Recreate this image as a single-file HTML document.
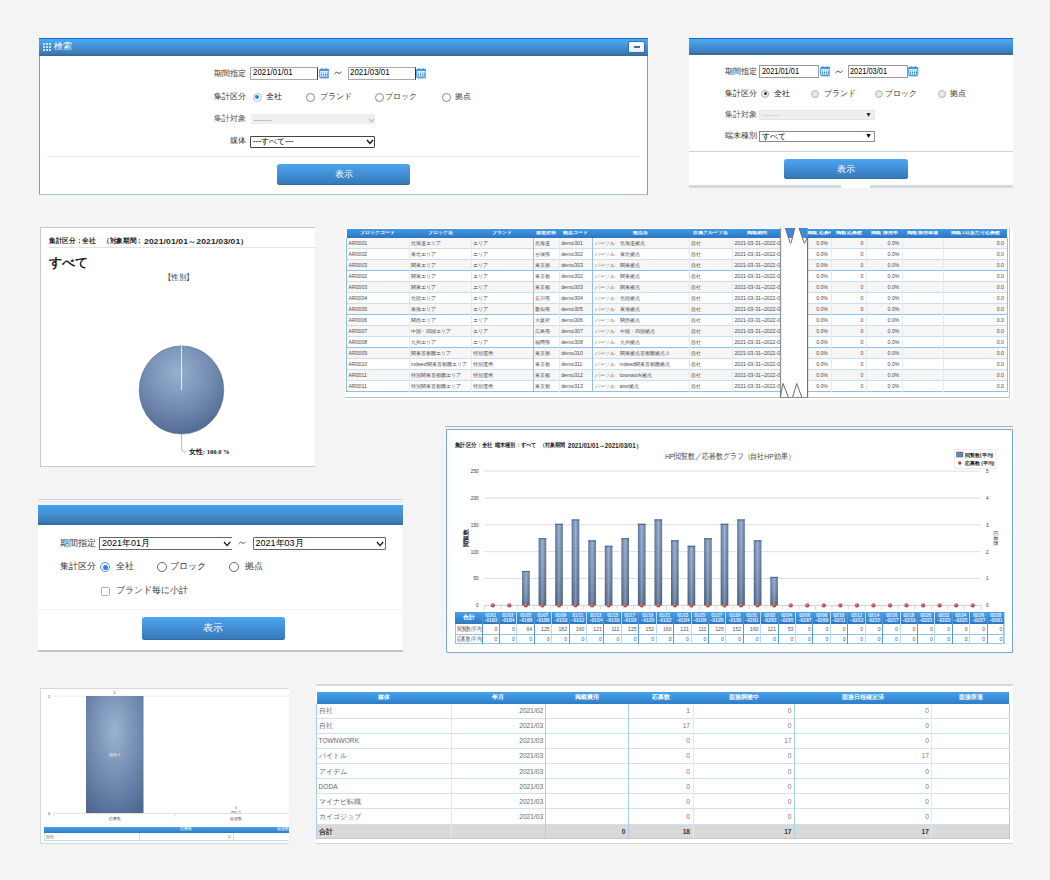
<!DOCTYPE html><html><head><meta charset="utf-8"><style>
*{box-sizing:border-box;margin:0;padding:0}
html,body{width:1050px;height:880px;overflow:hidden;background:#f4f4f4;font-family:"Liberation Sans",sans-serif;color:#222}
.abs{position:absolute}
.t{position:absolute;white-space:nowrap;line-height:1}
.hdr{position:absolute;background:linear-gradient(#4eaaf7 0%,#4699e0 30%,#4086c6 65%,#3c7cb4 85%,#376f9c 90%,#366d98 100%);border-top:1px solid #0d68c6}
.btn{position:absolute;background:linear-gradient(#4ca6f0,#418dd4 50%,#3677b6);border-radius:3px;color:#fff;text-align:center;box-shadow:inset 0 -1px 0 #2f6aa5}
.inp{position:absolute;background:#fff;border:1px solid #9a9a9a;border-top-color:#777;border-left-color:#777}
.radio{position:absolute;border:1px solid #8a8a8a;border-radius:50%;background:#fff}
.radio.on{border-color:#4a90e2}
.radio.on:after{content:"";position:absolute;left:1.5px;top:1.5px;right:1.5px;bottom:1.5px;border-radius:50%;background:#2f7fe0}
.cal{position:absolute;width:10px;height:10px;background:#4a90d0;border:1px solid #3a78b8}
.cal:after{content:"";position:absolute;left:1px;top:3px;right:1px;bottom:1px;background:repeating-linear-gradient(90deg,#dfeefa 0 2px,#4a90d0 2px 3px)}
</style></head><body>
<div class="abs" style="left:39px;top:38px;width:609px;height:157px;background:#fff;border:1px solid #6d9fd0;border-top:none;border-bottom-color:#a3bfd8"></div><div class="hdr" style="left:39px;top:38px;width:609px;height:18px"></div><div class="abs" style="left:43px;top:43px;width:2px;height:2px;background:#fff;border-radius:1px"></div><div class="abs" style="left:43px;top:46px;width:2px;height:2px;background:#fff;border-radius:1px"></div><div class="abs" style="left:43px;top:49px;width:2px;height:2px;background:#fff;border-radius:1px"></div><div class="abs" style="left:46px;top:43px;width:2px;height:2px;background:#fff;border-radius:1px"></div><div class="abs" style="left:46px;top:46px;width:2px;height:2px;background:#fff;border-radius:1px"></div><div class="abs" style="left:46px;top:49px;width:2px;height:2px;background:#fff;border-radius:1px"></div><div class="abs" style="left:49px;top:43px;width:2px;height:2px;background:#fff;border-radius:1px"></div><div class="abs" style="left:49px;top:46px;width:2px;height:2px;background:#fff;border-radius:1px"></div><div class="abs" style="left:49px;top:49px;width:2px;height:2px;background:#fff;border-radius:1px"></div><div class="t" style="left:54px;top:42px;font-size:9px;color:#fff;font-weight:normal;">検索</div><div class="abs" style="left:628px;top:41px;width:17px;height:12px;background:linear-gradient(#fff,#e8eef3);border-radius:2px;border:1px solid #2a6eb0"></div><div class="abs" style="left:633.5px;top:46.3px;width:6.5px;height:1.6px;background:#3d6f92"></div><div class="t" style="left:214px;top:69.6px;font-size:8.2px;color:#333;font-weight:normal;">期間指定</div><div class="abs" style="left:250px;top:66.5px;width:68px;height:13.5px;background:#fff;border:1px solid #aaa;border-right:1px solid #333"></div><div class="t" style="left:252.5px;top:68.2px;font-size:9.2px;color:#000;font-weight:normal;transform:scaleX(0.86);transform-origin:0 0">2021/01/01</div><svg class="abs" style="left:318.5px;top:68px" width="10.5" height="10.5" viewBox="0 0 10 10"><rect x="0.6" y="1.2" width="8.8" height="8.2" rx="1" fill="#e6f3fd" stroke="#3a93e2" stroke-width="0.9"/><rect x="0.6" y="1.2" width="8.8" height="1.6" fill="#3a93e2"/><rect x="2.3" y="0.2" width="1" height="1.6" fill="#3a93e2"/><rect x="6.7" y="0.2" width="1" height="1.6" fill="#3a93e2"/><g fill="#8cc6f2"><rect x="1.8" y="3.6" width="1.1" height="4.2"/><rect x="3.8" y="3.6" width="1.1" height="4.2"/><rect x="5.8" y="3.6" width="1.1" height="4.2"/><rect x="7.6" y="3.6" width="1" height="4.2"/></g><g fill="#2a78c8"><rect x="1.8" y="6" width="1.1" height="1"/><rect x="3.8" y="6" width="1.1" height="1"/><rect x="5.8" y="6" width="1.1" height="1"/><rect x="7.6" y="6" width="1" height="1"/></g><rect x="1.2" y="8.2" width="7.6" height="1" fill="#3f86c8"/></svg><svg class="abs" style="left:334px;top:70.5px" width="8" height="4" viewBox="0 0 8 4"><path d="M0.5 3 Q2.5 0 4 1.8 Q5.5 3.5 7.5 1" fill="none" stroke="#333" stroke-width="0.9"/></svg><div class="abs" style="left:347.5px;top:66.5px;width:68px;height:13.5px;background:#fff;border:1px solid #aaa;border-right:1px solid #333"></div><div class="t" style="left:350px;top:68.2px;font-size:9.2px;color:#000;font-weight:normal;transform:scaleX(0.86);transform-origin:0 0">2021/03/01</div><svg class="abs" style="left:415.5px;top:68px" width="10.5" height="10.5" viewBox="0 0 10 10"><rect x="0.6" y="1.2" width="8.8" height="8.2" rx="1" fill="#e6f3fd" stroke="#3a93e2" stroke-width="0.9"/><rect x="0.6" y="1.2" width="8.8" height="1.6" fill="#3a93e2"/><rect x="2.3" y="0.2" width="1" height="1.6" fill="#3a93e2"/><rect x="6.7" y="0.2" width="1" height="1.6" fill="#3a93e2"/><g fill="#8cc6f2"><rect x="1.8" y="3.6" width="1.1" height="4.2"/><rect x="3.8" y="3.6" width="1.1" height="4.2"/><rect x="5.8" y="3.6" width="1.1" height="4.2"/><rect x="7.6" y="3.6" width="1" height="4.2"/></g><g fill="#2a78c8"><rect x="1.8" y="6" width="1.1" height="1"/><rect x="3.8" y="6" width="1.1" height="1"/><rect x="5.8" y="6" width="1.1" height="1"/><rect x="7.6" y="6" width="1" height="1"/></g><rect x="1.2" y="8.2" width="7.6" height="1" fill="#3f86c8"/></svg><div class="t" style="left:214px;top:92.5px;font-size:8.2px;color:#333;font-weight:normal;">集計区分</div><div class="radio on" style="left:252.5px;top:92.5px;width:9px;height:9px;border-color:#9cc3ee"></div><div class="t" style="left:266px;top:92.5px;font-size:8.2px;color:#222;font-weight:normal;">全社</div><div class="radio" style="left:305.5px;top:92.5px;width:9px;height:9px;border-color:#888"></div><div class="t" style="left:320px;top:92.5px;font-size:8.2px;color:#333;font-weight:normal;">ブランド</div><div class="radio" style="left:374.5px;top:92.5px;width:9px;height:9px;border-color:#888"></div><div class="t" style="left:385px;top:92.5px;font-size:8.2px;color:#333;font-weight:normal;">ブロック</div><div class="radio" style="left:441.5px;top:92.5px;width:9px;height:9px;border-color:#888"></div><div class="t" style="left:455px;top:92.5px;font-size:8.2px;color:#333;font-weight:normal;">拠点</div><div class="t" style="left:214px;top:114.5px;font-size:8.2px;color:#555;font-weight:normal;">集計対象</div><div class="abs" style="left:251px;top:114px;width:124px;height:10px;background:#efefef"></div><div class="t" style="left:254px;top:115.5px;font-size:7.5px;color:#888;font-weight:normal;">-------</div><svg class="abs" style="left:368px;top:117.5px" width="7" height="4.8" viewBox="-1 -1 7 4.8"><path d="M0 0 L2.5 2.8 L5 0" fill="none" stroke="#888" stroke-width="0.8"/></svg><div class="t" style="left:230px;top:136.5px;font-size:8.2px;color:#333;font-weight:normal;">媒体</div><div class="abs" style="left:250px;top:135.5px;width:125px;height:12px;background:#fff;border:1px solid #444;border-radius:1px"></div><div class="t" style="left:253px;top:137.5px;font-size:8.2px;color:#000;font-weight:normal;">---すべて---</div><svg class="abs" style="left:366px;top:139px" width="8" height="5.5" viewBox="-1 -1 8 5.5"><path d="M0 0 L3.0 3.5 L6 0" fill="none" stroke="#111" stroke-width="1.3"/></svg><div class="abs" style="left:46px;top:156px;width:594px;height:1px;background:#eceff2"></div><div class="btn" style="left:277px;top:164px;width:133px;height:21px;font-size:9px;line-height:21px">表示</div><div class="abs" style="left:689px;top:38px;width:324px;height:148px;background:#fff"></div><div class="hdr" style="left:689px;top:38px;width:324px;height:17px"></div><div class="t" style="left:725px;top:67.5px;font-size:7.6px;color:#333;font-weight:normal;">期間指定</div><div class="abs" style="left:759px;top:65.3px;width:60px;height:12.5px;background:#fff;border:1px solid #999"></div><div class="t" style="left:761.5px;top:67px;font-size:8.6px;color:#000;font-weight:normal;transform:scaleX(0.86);transform-origin:0 0">2021/01/01</div><svg class="abs" style="left:819.5px;top:66.3px" width="10.5" height="10.5" viewBox="0 0 10 10"><rect x="0.6" y="1.2" width="8.8" height="8.2" rx="1" fill="#e6f3fd" stroke="#3a93e2" stroke-width="0.9"/><rect x="0.6" y="1.2" width="8.8" height="1.6" fill="#3a93e2"/><rect x="2.3" y="0.2" width="1" height="1.6" fill="#3a93e2"/><rect x="6.7" y="0.2" width="1" height="1.6" fill="#3a93e2"/><g fill="#8cc6f2"><rect x="1.8" y="3.6" width="1.1" height="4.2"/><rect x="3.8" y="3.6" width="1.1" height="4.2"/><rect x="5.8" y="3.6" width="1.1" height="4.2"/><rect x="7.6" y="3.6" width="1" height="4.2"/></g><g fill="#2a78c8"><rect x="1.8" y="6" width="1.1" height="1"/><rect x="3.8" y="6" width="1.1" height="1"/><rect x="5.8" y="6" width="1.1" height="1"/><rect x="7.6" y="6" width="1" height="1"/></g><rect x="1.2" y="8.2" width="7.6" height="1" fill="#3f86c8"/></svg><svg class="abs" style="left:835px;top:69.5px" width="8" height="4" viewBox="0 0 8 4"><path d="M0.5 3 Q2.5 0 4 1.8 Q5.5 3.5 7.5 1" fill="none" stroke="#333" stroke-width="0.9"/></svg><div class="abs" style="left:847.7px;top:65.3px;width:60px;height:12.5px;background:#fff;border:1px solid #999"></div><div class="t" style="left:850.2px;top:67px;font-size:8.6px;color:#000;font-weight:normal;transform:scaleX(0.86);transform-origin:0 0">2021/03/01</div><svg class="abs" style="left:908px;top:66.3px" width="10.5" height="10.5" viewBox="0 0 10 10"><rect x="0.6" y="1.2" width="8.8" height="8.2" rx="1" fill="#e6f3fd" stroke="#3a93e2" stroke-width="0.9"/><rect x="0.6" y="1.2" width="8.8" height="1.6" fill="#3a93e2"/><rect x="2.3" y="0.2" width="1" height="1.6" fill="#3a93e2"/><rect x="6.7" y="0.2" width="1" height="1.6" fill="#3a93e2"/><g fill="#8cc6f2"><rect x="1.8" y="3.6" width="1.1" height="4.2"/><rect x="3.8" y="3.6" width="1.1" height="4.2"/><rect x="5.8" y="3.6" width="1.1" height="4.2"/><rect x="7.6" y="3.6" width="1" height="4.2"/></g><g fill="#2a78c8"><rect x="1.8" y="6" width="1.1" height="1"/><rect x="3.8" y="6" width="1.1" height="1"/><rect x="5.8" y="6" width="1.1" height="1"/><rect x="7.6" y="6" width="1" height="1"/></g><rect x="1.2" y="8.2" width="7.6" height="1" fill="#3f86c8"/></svg><div class="t" style="left:725px;top:89.5px;font-size:7.6px;color:#333;font-weight:normal;">集計区分</div><div class="radio" style="left:761px;top:89.6px;width:8px;height:8px;border-color:#aaa;background:#f0f0f0"></div><div class="abs" style="left:763.5px;top:92.1px;width:3px;height:3px;background:#333;border-radius:50%"></div><div class="t" style="left:774px;top:89.5px;font-size:7.8px;color:#222;font-weight:normal;">全社</div><div class="radio" style="left:811px;top:89.6px;width:8px;height:8px;border-color:#b5b5b5;background:#e8e8e8"></div><div class="t" style="left:823.5px;top:89.5px;font-size:7.8px;color:#333;font-weight:normal;">ブランド</div><div class="radio" style="left:875px;top:89.6px;width:8px;height:8px;border-color:#b5b5b5;background:#e8e8e8"></div><div class="t" style="left:885px;top:89.5px;font-size:7.8px;color:#333;font-weight:normal;">ブロック</div><div class="radio" style="left:937.6px;top:89.6px;width:8px;height:8px;border-color:#b5b5b5;background:#e8e8e8"></div><div class="t" style="left:950px;top:89.5px;font-size:7.8px;color:#333;font-weight:normal;">拠点</div><div class="t" style="left:725px;top:110.5px;font-size:7.6px;color:#555;font-weight:normal;">集計対象</div><div class="abs" style="left:759px;top:110.3px;width:116px;height:9.5px;background:#efefef;border:1px solid #e4e4e4"></div><div class="t" style="left:762px;top:112px;font-size:6.5px;color:#bbb;font-weight:normal;">--------</div><div class="t" style="left:865px;top:110.5px;font-size:7px;color:#333;font-weight:normal;">▼</div><div class="t" style="left:725px;top:131.5px;font-size:7.6px;color:#333;font-weight:normal;">端末種別</div><div class="abs" style="left:759px;top:130.9px;width:116px;height:11px;background:#fff;border:1px solid #888"></div><div class="t" style="left:762px;top:132.5px;font-size:8px;color:#000;font-weight:normal;">すべて</div><div class="t" style="left:865px;top:132px;font-size:7px;color:#000;font-weight:normal;">▼</div><div class="abs" style="left:689px;top:151px;width:324px;height:1px;background:#cfd3d8"></div><div class="btn" style="left:784px;top:159px;width:124px;height:20px;font-size:9px;line-height:20px">表示</div><div class="abs" style="left:689px;top:185px;width:324px;height:3px;background:#d5dae2"></div><div class="abs" style="left:841px;top:185px;width:29px;height:3px;background:#fff"></div><div class="abs" style="left:40px;top:227px;width:275px;height:240px;background:#fff;border:1px solid #c9c9c9;border-right:none"></div><div class="t" style="left:48.5px;top:238px;font-size:6.6px;color:#222;font-weight:bold;transform:scaleX(0.95);transform-origin:0 0">集計区分：全社</div><div class="t" style="left:103px;top:238px;font-size:6.6px;color:#222;font-weight:bold;transform:scaleX(0.95);transform-origin:0 0">（対象期間：</div><div class="t" style="left:143.6px;top:237.5px;font-size:7.4px;color:#222;font-weight:bold;transform:scaleX(1.16);transform-origin:0 0;letter-spacing:0.1px">2021/01/01～2021/03/01）</div><div class="abs" style="left:48px;top:247px;width:267px;height:1px;background:#e3e3e3"></div><div class="t" style="left:49px;top:255.5px;font-size:13px;color:#1a1a1a;font-weight:bold;">すべて</div><div class="t" style="left:164px;top:273.5px;font-size:8.2px;color:#333;font-weight:normal;transform:scaleX(0.92);transform-origin:0 0">【性別】</div><svg class="abs" style="left:130px;top:335px" width="110" height="130" viewBox="0 0 110 130"><defs><radialGradient id="pg" cx="0.45" cy="0.3" r="0.75"><stop offset="0" stop-color="#97afd0"/><stop offset="0.6" stop-color="#6f87ab"/><stop offset="1" stop-color="#4d6690"/></radialGradient></defs><ellipse cx="51.5" cy="55" rx="42.3" ry="44.1" fill="url(#pg)" stroke="#4d6892" stroke-width="0.6"/><line x1="51.5" y1="10.9" x2="51.5" y2="55" stroke="#eef2f8" stroke-width="0.9"/><path d="M51.5 99.5 V113 Q51.5 117 56 117" stroke="#aaa" fill="none" stroke-width="0.8"/></svg><div class="t" style="left:189px;top:449px;font-size:6.5px;color:#111;font-weight:bold;font-family:'Liberation Serif',serif">女性: 100.0 %</div><div class="abs" style="left:345px;top:228px;width:668px;height:172px;background:#fff"></div><div class="abs" style="left:345px;top:228px;width:665px;height:170px;background:#fff;border-right:1.5px solid #c8c8c8;border-bottom:1.5px solid #bdbdbd"></div><div class="abs" style="left:346.5px;top:229px;width:660.5px;height:9px;background:linear-gradient(#3f98e6,#2d76c0)"></div><div class="t" style="left:346.5px;top:230.5px;width:62.5px;text-align:center;font-size:4.6px;color:#fff;font-weight:bold;overflow:hidden">ブロックコード</div><div class="t" style="left:409px;top:230.5px;width:62.30000000000001px;text-align:center;font-size:4.6px;color:#fff;font-weight:bold;overflow:hidden">ブロック名</div><div class="t" style="left:471.3px;top:230.5px;width:61.900000000000034px;text-align:center;font-size:4.6px;color:#fff;font-weight:bold;overflow:hidden">ブランド</div><div class="t" style="left:533.2px;top:230.5px;width:26.0px;text-align:center;font-size:4.6px;color:#fff;font-weight:bold;overflow:hidden">都道府県</div><div class="t" style="left:559.2px;top:230.5px;width:33.39999999999998px;text-align:center;font-size:4.6px;color:#fff;font-weight:bold;overflow:hidden">拠点コード</div><div class="t" style="left:592.6px;top:230.5px;width:96.39999999999998px;text-align:center;font-size:4.6px;color:#fff;font-weight:bold;overflow:hidden">拠点名</div><div class="t" style="left:689px;top:230.5px;width:43.39999999999998px;text-align:center;font-size:4.6px;color:#fff;font-weight:bold;overflow:hidden">所属グループ名</div><div class="t" style="left:732.4px;top:230.5px;width:48.30000000000007px;text-align:center;font-size:4.6px;color:#fff;font-weight:bold;overflow:hidden">掲載期間</div><div class="t" style="left:807.4px;top:230.5px;width:23.600000000000023px;text-align:center;font-size:4.6px;color:#fff;font-weight:bold;overflow:hidden">掲載 応募率</div><div class="t" style="left:831px;top:230.5px;width:35.5px;text-align:center;font-size:4.6px;color:#fff;font-weight:bold;overflow:hidden">掲載 応募数</div><div class="t" style="left:866.5px;top:230.5px;width:35.89999999999998px;text-align:center;font-size:4.6px;color:#fff;font-weight:bold;overflow:hidden">掲載 採用率</div><div class="t" style="left:902.4px;top:230.5px;width:40.89999999999998px;text-align:center;font-size:4.6px;color:#fff;font-weight:bold;overflow:hidden">掲載 採用単価</div><div class="t" style="left:943.3px;top:230.5px;width:63.700000000000045px;text-align:center;font-size:4.6px;color:#fff;font-weight:bold;overflow:hidden">掲載 1日あたり応募数</div><div class="abs" style="left:346.5px;top:238px;width:660.5px;height:11px;background:#f6f6f6;border-bottom:1px solid #c9e0f2"></div><div class="t" style="left:348.5px;top:241.2px;font-size:5.2px;color:#4a4a4a">AR0001</div><div class="t" style="left:411px;top:241.2px;font-size:5.2px;color:#4a4a4a">北海道エリア</div><div class="t" style="left:473.3px;top:241.2px;font-size:5.2px;color:#4a4a4a">エリア</div><div class="t" style="left:535.2px;top:241.2px;font-size:5.2px;color:#4a4a4a">北海道</div><div class="t" style="left:561.2px;top:241.2px;font-size:5.2px;color:#4a4a4a">demo301</div><div class="t" style="left:594.6px;top:241.2px;font-size:5.2px;color:#4a4a4a">パーソル　北海道拠点</div><div class="t" style="left:691px;top:241.2px;font-size:5.2px;color:#4a4a4a">自社</div><div class="t" style="left:734.4px;top:241.2px;font-size:5.2px;color:#4a4a4a">2021-03-31~2022-0</div><div class="t" style="left:807.4px;top:241.2px;width:20.600000000000023px;text-align:right;font-size:5.2px;color:#4a4a4a">0.0%</div><div class="t" style="left:831px;top:241.2px;width:32.5px;text-align:right;font-size:5.2px;color:#4a4a4a">0</div><div class="t" style="left:866.5px;top:241.2px;width:32.89999999999998px;text-align:right;font-size:5.2px;color:#4a4a4a">0.0%</div><div class="t" style="left:943.3px;top:241.2px;width:60.700000000000045px;text-align:right;font-size:5.2px;color:#4a4a4a">0.0</div><div class="abs" style="left:346.5px;top:249px;width:660.5px;height:11px;background:#fff;border-bottom:1px solid #c9e0f2"></div><div class="t" style="left:348.5px;top:252.2px;font-size:5.2px;color:#4a4a4a">AR0002</div><div class="t" style="left:411px;top:252.2px;font-size:5.2px;color:#4a4a4a">東北エリア</div><div class="t" style="left:473.3px;top:252.2px;font-size:5.2px;color:#4a4a4a">エリア</div><div class="t" style="left:535.2px;top:252.2px;font-size:5.2px;color:#4a4a4a">宮城県</div><div class="t" style="left:561.2px;top:252.2px;font-size:5.2px;color:#4a4a4a">demo302</div><div class="t" style="left:594.6px;top:252.2px;font-size:5.2px;color:#4a4a4a">パーソル　東北拠点</div><div class="t" style="left:691px;top:252.2px;font-size:5.2px;color:#4a4a4a">自社</div><div class="t" style="left:734.4px;top:252.2px;font-size:5.2px;color:#4a4a4a">2021-03-31~2022-0</div><div class="t" style="left:807.4px;top:252.2px;width:20.600000000000023px;text-align:right;font-size:5.2px;color:#4a4a4a">0.0%</div><div class="t" style="left:831px;top:252.2px;width:32.5px;text-align:right;font-size:5.2px;color:#4a4a4a">0</div><div class="t" style="left:866.5px;top:252.2px;width:32.89999999999998px;text-align:right;font-size:5.2px;color:#4a4a4a">0.0%</div><div class="t" style="left:943.3px;top:252.2px;width:60.700000000000045px;text-align:right;font-size:5.2px;color:#4a4a4a">0.0</div><div class="abs" style="left:346.5px;top:260px;width:660.5px;height:11px;background:#f6f6f6;border-bottom:1px solid #8fbfe4"></div><div class="t" style="left:348.5px;top:263.2px;font-size:5.2px;color:#4a4a4a">AR0003</div><div class="t" style="left:411px;top:263.2px;font-size:5.2px;color:#4a4a4a">関東エリア</div><div class="t" style="left:473.3px;top:263.2px;font-size:5.2px;color:#4a4a4a">エリア</div><div class="t" style="left:535.2px;top:263.2px;font-size:5.2px;color:#4a4a4a">東京都</div><div class="t" style="left:561.2px;top:263.2px;font-size:5.2px;color:#4a4a4a">demo303</div><div class="t" style="left:594.6px;top:263.2px;font-size:5.2px;color:#4a4a4a">パーソル　関東拠点</div><div class="t" style="left:691px;top:263.2px;font-size:5.2px;color:#4a4a4a">自社</div><div class="t" style="left:734.4px;top:263.2px;font-size:5.2px;color:#4a4a4a">2021-03-31~2022-0</div><div class="t" style="left:807.4px;top:263.2px;width:20.600000000000023px;text-align:right;font-size:5.2px;color:#4a4a4a">0.0%</div><div class="t" style="left:831px;top:263.2px;width:32.5px;text-align:right;font-size:5.2px;color:#4a4a4a">0</div><div class="t" style="left:866.5px;top:263.2px;width:32.89999999999998px;text-align:right;font-size:5.2px;color:#4a4a4a">0.0%</div><div class="t" style="left:943.3px;top:263.2px;width:60.700000000000045px;text-align:right;font-size:5.2px;color:#4a4a4a">0.0</div><div class="abs" style="left:346.5px;top:271px;width:660.5px;height:11px;background:#fff;border-bottom:1px solid #c9e0f2"></div><div class="t" style="left:348.5px;top:274.2px;font-size:5.2px;color:#4a4a4a">AR0002</div><div class="t" style="left:411px;top:274.2px;font-size:5.2px;color:#4a4a4a">関東エリア</div><div class="t" style="left:473.3px;top:274.2px;font-size:5.2px;color:#4a4a4a">エリア</div><div class="t" style="left:535.2px;top:274.2px;font-size:5.2px;color:#4a4a4a">東京都</div><div class="t" style="left:561.2px;top:274.2px;font-size:5.2px;color:#4a4a4a">demo302</div><div class="t" style="left:594.6px;top:274.2px;font-size:5.2px;color:#4a4a4a">パーソル　関東拠点</div><div class="t" style="left:691px;top:274.2px;font-size:5.2px;color:#4a4a4a">自社</div><div class="t" style="left:734.4px;top:274.2px;font-size:5.2px;color:#4a4a4a">2021-03-31~2022-0</div><div class="t" style="left:807.4px;top:274.2px;width:20.600000000000023px;text-align:right;font-size:5.2px;color:#4a4a4a">0.0%</div><div class="t" style="left:831px;top:274.2px;width:32.5px;text-align:right;font-size:5.2px;color:#4a4a4a">0</div><div class="t" style="left:866.5px;top:274.2px;width:32.89999999999998px;text-align:right;font-size:5.2px;color:#4a4a4a">0.0%</div><div class="t" style="left:943.3px;top:274.2px;width:60.700000000000045px;text-align:right;font-size:5.2px;color:#4a4a4a">0.0</div><div class="abs" style="left:346.5px;top:282px;width:660.5px;height:11px;background:#f6f6f6;border-bottom:1px solid #c9e0f2"></div><div class="t" style="left:348.5px;top:285.2px;font-size:5.2px;color:#4a4a4a">AR0003</div><div class="t" style="left:411px;top:285.2px;font-size:5.2px;color:#4a4a4a">関東エリア</div><div class="t" style="left:473.3px;top:285.2px;font-size:5.2px;color:#4a4a4a">エリア</div><div class="t" style="left:535.2px;top:285.2px;font-size:5.2px;color:#4a4a4a">東京都</div><div class="t" style="left:561.2px;top:285.2px;font-size:5.2px;color:#4a4a4a">demo303</div><div class="t" style="left:594.6px;top:285.2px;font-size:5.2px;color:#4a4a4a">パーソル　関東拠点</div><div class="t" style="left:691px;top:285.2px;font-size:5.2px;color:#4a4a4a">自社</div><div class="t" style="left:734.4px;top:285.2px;font-size:5.2px;color:#4a4a4a">2021-03-31~2022-0</div><div class="t" style="left:807.4px;top:285.2px;width:20.600000000000023px;text-align:right;font-size:5.2px;color:#4a4a4a">0.0%</div><div class="t" style="left:831px;top:285.2px;width:32.5px;text-align:right;font-size:5.2px;color:#4a4a4a">0</div><div class="t" style="left:866.5px;top:285.2px;width:32.89999999999998px;text-align:right;font-size:5.2px;color:#4a4a4a">0.0%</div><div class="t" style="left:943.3px;top:285.2px;width:60.700000000000045px;text-align:right;font-size:5.2px;color:#4a4a4a">0.0</div><div class="abs" style="left:346.5px;top:293px;width:660.5px;height:11px;background:#fff;border-bottom:1px solid #c9e0f2"></div><div class="t" style="left:348.5px;top:296.2px;font-size:5.2px;color:#4a4a4a">AR0004</div><div class="t" style="left:411px;top:296.2px;font-size:5.2px;color:#4a4a4a">北陸エリア</div><div class="t" style="left:473.3px;top:296.2px;font-size:5.2px;color:#4a4a4a">エリア</div><div class="t" style="left:535.2px;top:296.2px;font-size:5.2px;color:#4a4a4a">石川県</div><div class="t" style="left:561.2px;top:296.2px;font-size:5.2px;color:#4a4a4a">demo304</div><div class="t" style="left:594.6px;top:296.2px;font-size:5.2px;color:#4a4a4a">パーソル　北陸拠点</div><div class="t" style="left:691px;top:296.2px;font-size:5.2px;color:#4a4a4a">自社</div><div class="t" style="left:734.4px;top:296.2px;font-size:5.2px;color:#4a4a4a">2021-03-31~2022-0</div><div class="t" style="left:807.4px;top:296.2px;width:20.600000000000023px;text-align:right;font-size:5.2px;color:#4a4a4a">0.0%</div><div class="t" style="left:831px;top:296.2px;width:32.5px;text-align:right;font-size:5.2px;color:#4a4a4a">0</div><div class="t" style="left:866.5px;top:296.2px;width:32.89999999999998px;text-align:right;font-size:5.2px;color:#4a4a4a">0.0%</div><div class="t" style="left:943.3px;top:296.2px;width:60.700000000000045px;text-align:right;font-size:5.2px;color:#4a4a4a">0.0</div><div class="abs" style="left:346.5px;top:304px;width:660.5px;height:11px;background:#f6f6f6;border-bottom:1px solid #8fbfe4"></div><div class="t" style="left:348.5px;top:307.2px;font-size:5.2px;color:#4a4a4a">AR0005</div><div class="t" style="left:411px;top:307.2px;font-size:5.2px;color:#4a4a4a">東海エリア</div><div class="t" style="left:473.3px;top:307.2px;font-size:5.2px;color:#4a4a4a">エリア</div><div class="t" style="left:535.2px;top:307.2px;font-size:5.2px;color:#4a4a4a">愛知県</div><div class="t" style="left:561.2px;top:307.2px;font-size:5.2px;color:#4a4a4a">demo305</div><div class="t" style="left:594.6px;top:307.2px;font-size:5.2px;color:#4a4a4a">パーソル　東海拠点</div><div class="t" style="left:691px;top:307.2px;font-size:5.2px;color:#4a4a4a">自社</div><div class="t" style="left:734.4px;top:307.2px;font-size:5.2px;color:#4a4a4a">2021-03-31~2022-0</div><div class="t" style="left:807.4px;top:307.2px;width:20.600000000000023px;text-align:right;font-size:5.2px;color:#4a4a4a">0.0%</div><div class="t" style="left:831px;top:307.2px;width:32.5px;text-align:right;font-size:5.2px;color:#4a4a4a">0</div><div class="t" style="left:866.5px;top:307.2px;width:32.89999999999998px;text-align:right;font-size:5.2px;color:#4a4a4a">0.0%</div><div class="t" style="left:943.3px;top:307.2px;width:60.700000000000045px;text-align:right;font-size:5.2px;color:#4a4a4a">0.0</div><div class="abs" style="left:346.5px;top:315px;width:660.5px;height:11px;background:#fff;border-bottom:1px solid #c9e0f2"></div><div class="t" style="left:348.5px;top:318.2px;font-size:5.2px;color:#4a4a4a">AR0006</div><div class="t" style="left:411px;top:318.2px;font-size:5.2px;color:#4a4a4a">関西エリア</div><div class="t" style="left:473.3px;top:318.2px;font-size:5.2px;color:#4a4a4a">エリア</div><div class="t" style="left:535.2px;top:318.2px;font-size:5.2px;color:#4a4a4a">大阪府</div><div class="t" style="left:561.2px;top:318.2px;font-size:5.2px;color:#4a4a4a">demo306</div><div class="t" style="left:594.6px;top:318.2px;font-size:5.2px;color:#4a4a4a">パーソル　関西拠点</div><div class="t" style="left:691px;top:318.2px;font-size:5.2px;color:#4a4a4a">自社</div><div class="t" style="left:734.4px;top:318.2px;font-size:5.2px;color:#4a4a4a">2021-03-31~2022-0</div><div class="t" style="left:807.4px;top:318.2px;width:20.600000000000023px;text-align:right;font-size:5.2px;color:#4a4a4a">0.0%</div><div class="t" style="left:831px;top:318.2px;width:32.5px;text-align:right;font-size:5.2px;color:#4a4a4a">0</div><div class="t" style="left:866.5px;top:318.2px;width:32.89999999999998px;text-align:right;font-size:5.2px;color:#4a4a4a">0.0%</div><div class="t" style="left:943.3px;top:318.2px;width:60.700000000000045px;text-align:right;font-size:5.2px;color:#4a4a4a">0.0</div><div class="abs" style="left:346.5px;top:326px;width:660.5px;height:11px;background:#f6f6f6;border-bottom:1px solid #c9e0f2"></div><div class="t" style="left:348.5px;top:329.2px;font-size:5.2px;color:#4a4a4a">AR0007</div><div class="t" style="left:411px;top:329.2px;font-size:5.2px;color:#4a4a4a">中国・四国エリア</div><div class="t" style="left:473.3px;top:329.2px;font-size:5.2px;color:#4a4a4a">エリア</div><div class="t" style="left:535.2px;top:329.2px;font-size:5.2px;color:#4a4a4a">広島県</div><div class="t" style="left:561.2px;top:329.2px;font-size:5.2px;color:#4a4a4a">demo307</div><div class="t" style="left:594.6px;top:329.2px;font-size:5.2px;color:#4a4a4a">パーソル　中国・四国拠点</div><div class="t" style="left:691px;top:329.2px;font-size:5.2px;color:#4a4a4a">自社</div><div class="t" style="left:734.4px;top:329.2px;font-size:5.2px;color:#4a4a4a">2021-03-31~2022-0</div><div class="t" style="left:807.4px;top:329.2px;width:20.600000000000023px;text-align:right;font-size:5.2px;color:#4a4a4a">0.0%</div><div class="t" style="left:831px;top:329.2px;width:32.5px;text-align:right;font-size:5.2px;color:#4a4a4a">0</div><div class="t" style="left:866.5px;top:329.2px;width:32.89999999999998px;text-align:right;font-size:5.2px;color:#4a4a4a">0.0%</div><div class="t" style="left:943.3px;top:329.2px;width:60.700000000000045px;text-align:right;font-size:5.2px;color:#4a4a4a">0.0</div><div class="abs" style="left:346.5px;top:337px;width:660.5px;height:11px;background:#fff;border-bottom:1px solid #8fbfe4"></div><div class="t" style="left:348.5px;top:340.2px;font-size:5.2px;color:#4a4a4a">AR0008</div><div class="t" style="left:411px;top:340.2px;font-size:5.2px;color:#4a4a4a">九州エリア</div><div class="t" style="left:473.3px;top:340.2px;font-size:5.2px;color:#4a4a4a">エリア</div><div class="t" style="left:535.2px;top:340.2px;font-size:5.2px;color:#4a4a4a">福岡県</div><div class="t" style="left:561.2px;top:340.2px;font-size:5.2px;color:#4a4a4a">demo308</div><div class="t" style="left:594.6px;top:340.2px;font-size:5.2px;color:#4a4a4a">パーソル　九州拠点</div><div class="t" style="left:691px;top:340.2px;font-size:5.2px;color:#4a4a4a">自社</div><div class="t" style="left:734.4px;top:340.2px;font-size:5.2px;color:#4a4a4a">2021-03-31~2022-0</div><div class="t" style="left:807.4px;top:340.2px;width:20.600000000000023px;text-align:right;font-size:5.2px;color:#4a4a4a">0.0%</div><div class="t" style="left:831px;top:340.2px;width:32.5px;text-align:right;font-size:5.2px;color:#4a4a4a">0</div><div class="t" style="left:866.5px;top:340.2px;width:32.89999999999998px;text-align:right;font-size:5.2px;color:#4a4a4a">0.0%</div><div class="t" style="left:943.3px;top:340.2px;width:60.700000000000045px;text-align:right;font-size:5.2px;color:#4a4a4a">0.0</div><div class="abs" style="left:346.5px;top:348px;width:660.5px;height:11px;background:#f6f6f6;border-bottom:1px solid #c9e0f2"></div><div class="t" style="left:348.5px;top:351.2px;font-size:5.2px;color:#4a4a4a">AR0009</div><div class="t" style="left:411px;top:351.2px;font-size:5.2px;color:#4a4a4a">関東首都圏エリア</div><div class="t" style="left:473.3px;top:351.2px;font-size:5.2px;color:#4a4a4a">特別運用</div><div class="t" style="left:535.2px;top:351.2px;font-size:5.2px;color:#4a4a4a">東京都</div><div class="t" style="left:561.2px;top:351.2px;font-size:5.2px;color:#4a4a4a">demo310</div><div class="t" style="left:594.6px;top:351.2px;font-size:5.2px;color:#4a4a4a">パーソル　関東拠点首都圏拠点２</div><div class="t" style="left:691px;top:351.2px;font-size:5.2px;color:#4a4a4a">自社</div><div class="t" style="left:734.4px;top:351.2px;font-size:5.2px;color:#4a4a4a">2021-03-31~2022-0</div><div class="t" style="left:807.4px;top:351.2px;width:20.600000000000023px;text-align:right;font-size:5.2px;color:#4a4a4a">0.0%</div><div class="t" style="left:831px;top:351.2px;width:32.5px;text-align:right;font-size:5.2px;color:#4a4a4a">0</div><div class="t" style="left:866.5px;top:351.2px;width:32.89999999999998px;text-align:right;font-size:5.2px;color:#4a4a4a">0.0%</div><div class="t" style="left:943.3px;top:351.2px;width:60.700000000000045px;text-align:right;font-size:5.2px;color:#4a4a4a">0.0</div><div class="abs" style="left:346.5px;top:359px;width:660.5px;height:11px;background:#fff;border-bottom:1px solid #c9e0f2"></div><div class="t" style="left:348.5px;top:362.2px;font-size:5.2px;color:#4a4a4a">AR0010</div><div class="t" style="left:411px;top:362.2px;font-size:5.2px;color:#4a4a4a">indeed関東首都圏エリア</div><div class="t" style="left:473.3px;top:362.2px;font-size:5.2px;color:#4a4a4a">特別運用</div><div class="t" style="left:535.2px;top:362.2px;font-size:5.2px;color:#4a4a4a">東京都</div><div class="t" style="left:561.2px;top:362.2px;font-size:5.2px;color:#4a4a4a">demo311</div><div class="t" style="left:594.6px;top:362.2px;font-size:5.2px;color:#4a4a4a">パーソル　indeed関東首都圏拠点</div><div class="t" style="left:691px;top:362.2px;font-size:5.2px;color:#4a4a4a">自社</div><div class="t" style="left:734.4px;top:362.2px;font-size:5.2px;color:#4a4a4a">2021-03-31~2022-0</div><div class="t" style="left:807.4px;top:362.2px;width:20.600000000000023px;text-align:right;font-size:5.2px;color:#4a4a4a">0.0%</div><div class="t" style="left:831px;top:362.2px;width:32.5px;text-align:right;font-size:5.2px;color:#4a4a4a">0</div><div class="t" style="left:866.5px;top:362.2px;width:32.89999999999998px;text-align:right;font-size:5.2px;color:#4a4a4a">0.0%</div><div class="t" style="left:943.3px;top:362.2px;width:60.700000000000045px;text-align:right;font-size:5.2px;color:#4a4a4a">0.0</div><div class="abs" style="left:346.5px;top:370px;width:660.5px;height:11px;background:#f6f6f6;border-bottom:1px solid #c9e0f2"></div><div class="t" style="left:348.5px;top:373.2px;font-size:5.2px;color:#4a4a4a">AR0011</div><div class="t" style="left:411px;top:373.2px;font-size:5.2px;color:#4a4a4a">特別関東首都圏エリア</div><div class="t" style="left:473.3px;top:373.2px;font-size:5.2px;color:#4a4a4a">特別運用</div><div class="t" style="left:535.2px;top:373.2px;font-size:5.2px;color:#4a4a4a">東京都</div><div class="t" style="left:561.2px;top:373.2px;font-size:5.2px;color:#4a4a4a">demo312</div><div class="t" style="left:594.6px;top:373.2px;font-size:5.2px;color:#4a4a4a">パーソル　townwork拠点</div><div class="t" style="left:691px;top:373.2px;font-size:5.2px;color:#4a4a4a">自社</div><div class="t" style="left:734.4px;top:373.2px;font-size:5.2px;color:#4a4a4a">2021-03-31~2022-0</div><div class="t" style="left:807.4px;top:373.2px;width:20.600000000000023px;text-align:right;font-size:5.2px;color:#4a4a4a">0.0%</div><div class="t" style="left:831px;top:373.2px;width:32.5px;text-align:right;font-size:5.2px;color:#4a4a4a">0</div><div class="t" style="left:866.5px;top:373.2px;width:32.89999999999998px;text-align:right;font-size:5.2px;color:#4a4a4a">0.0%</div><div class="t" style="left:943.3px;top:373.2px;width:60.700000000000045px;text-align:right;font-size:5.2px;color:#4a4a4a">0.0</div><div class="abs" style="left:346.5px;top:381px;width:660.5px;height:11px;background:#fff;border-bottom:1px solid #8fbfe4"></div><div class="t" style="left:348.5px;top:384.2px;font-size:5.2px;color:#4a4a4a">AR0011</div><div class="t" style="left:411px;top:384.2px;font-size:5.2px;color:#4a4a4a">特別関東首都圏エリア</div><div class="t" style="left:473.3px;top:384.2px;font-size:5.2px;color:#4a4a4a">特別運用</div><div class="t" style="left:535.2px;top:384.2px;font-size:5.2px;color:#4a4a4a">東京都</div><div class="t" style="left:561.2px;top:384.2px;font-size:5.2px;color:#4a4a4a">demo313</div><div class="t" style="left:594.6px;top:384.2px;font-size:5.2px;color:#4a4a4a">パーソル　atsz拠点</div><div class="t" style="left:691px;top:384.2px;font-size:5.2px;color:#4a4a4a">自社</div><div class="t" style="left:734.4px;top:384.2px;font-size:5.2px;color:#4a4a4a">2021-03-31~2022-0</div><div class="t" style="left:807.4px;top:384.2px;width:20.600000000000023px;text-align:right;font-size:5.2px;color:#4a4a4a">0.0%</div><div class="t" style="left:831px;top:384.2px;width:32.5px;text-align:right;font-size:5.2px;color:#4a4a4a">0</div><div class="t" style="left:866.5px;top:384.2px;width:32.89999999999998px;text-align:right;font-size:5.2px;color:#4a4a4a">0.0%</div><div class="t" style="left:943.3px;top:384.2px;width:60.700000000000045px;text-align:right;font-size:5.2px;color:#4a4a4a">0.0</div><div class="abs" style="left:346.0px;top:238px;width:1px;height:154px;background:#8cc0e4"></div><div class="abs" style="left:408.5px;top:238px;width:1px;height:154px;background:#dfecf6"></div><div class="abs" style="left:470.8px;top:238px;width:1px;height:154px;background:#dfecf6"></div><div class="abs" style="left:532.7px;top:238px;width:1px;height:154px;background:#8cc0e4"></div><div class="abs" style="left:558.7px;top:238px;width:1px;height:154px;background:#dfecf6"></div><div class="abs" style="left:592.1px;top:238px;width:1px;height:154px;background:#8cc0e4"></div><div class="abs" style="left:688.5px;top:238px;width:1px;height:154px;background:#dfecf6"></div><div class="abs" style="left:731.9px;top:238px;width:1px;height:154px;background:#dfecf6"></div><div class="abs" style="left:830.5px;top:238px;width:1px;height:154px;background:#dfecf6"></div><div class="abs" style="left:866.0px;top:238px;width:1px;height:154px;background:#dfecf6"></div><div class="abs" style="left:901.9px;top:238px;width:1px;height:154px;background:#dfecf6"></div><div class="abs" style="left:942.8px;top:238px;width:1px;height:154px;background:#dfecf6"></div><div class="abs" style="left:1006.5px;top:238px;width:1px;height:154px;background:#8cc0e4"></div><div class="abs" style="left:780.3px;top:228px;width:27.5px;height:170px;background:#fff"></div><svg class="abs" style="left:776px;top:226px" width="36" height="174" viewBox="776 226 36 174"><polygon points="785.3,228 790.6,243.7 794.8,228" fill="#3d8ad6"/><polygon points="799,228 804.5,243.7 807.8,238 807.8,228" fill="#3d8ad6"/><rect x="784" y="238" width="24" height="8" fill="#fff"/><path d="M785.3 228 L790 242.5 Q790.6 244.2 791.2 242.5 L794.8 228" stroke="#6a6a6a" fill="none" stroke-width="1"/><path d="M799 228 L804 242.5 Q804.5 244.2 805.1 242.5 L807.8 236" stroke="#6a6a6a" fill="none" stroke-width="1"/><path d="M780.6 228 V397" stroke="#8a8a8a" stroke-width="1.1"/><path d="M807.6 237 V397" stroke="#6a6a6a" stroke-width="1.1"/><path d="M780.3 397 L783 383.5 L788.3 397" stroke="#6a6a6a" fill="none" stroke-width="1"/><path d="M792.7 397 L796.7 383.5 L801.7 397" stroke="#6a6a6a" fill="none" stroke-width="1"/><path d="M780 397.5 H808" stroke="#8a8a8a" stroke-width="1"/></svg><div class="abs" style="left:445px;top:425.5px;width:568px;height:1.5px;background:#a9b1ba"></div><div class="abs" style="left:446px;top:429px;width:567px;height:224px;background:#fff;border:1px solid #7aa6d2;border-radius:0 0 0 2px"></div><div class="t" style="left:455px;top:443.2px;font-size:5.5px;color:#222;font-weight:bold;transform:scaleX(0.9);transform-origin:0 0">集計区分：全社</div><div class="t" style="left:495px;top:443.2px;font-size:5.5px;color:#222;font-weight:bold;transform:scaleX(0.86);transform-origin:0 0">端末種別：すべて</div><div class="t" style="left:540px;top:443.2px;font-size:5.5px;color:#222;font-weight:bold;transform:scaleX(0.85);transform-origin:0 0">（対象期間：</div><div class="t" style="left:568px;top:443px;font-size:6.3px;color:#222;font-weight:bold;transform:scaleX(0.98);transform-origin:0 0">2021/01/01～2021/03/01）</div><div class="t" style="left:665px;top:453px;font-size:7.8px;color:#444;font-weight:normal;transform:scaleX(0.865);transform-origin:0 0">HP閲覧数／応募数グラフ（自社HP効果）</div><svg class="abs" style="left:446px;top:429px" width="567" height="224" viewBox="446 429 567 224"><defs><linearGradient id="bg" x1="0" x2="1" y1="0" y2="0"><stop offset="0" stop-color="#4f6a92"/><stop offset="0.5" stop-color="#94acce"/><stop offset="1" stop-color="#4f6a92"/></linearGradient><linearGradient id="bgv" x1="0" x2="0" y1="0" y2="1"><stop offset="0" stop-color="#fff" stop-opacity="0.08"/><stop offset="1" stop-color="#000" stop-opacity="0.18"/></linearGradient><radialGradient id="dg" cx="0.4" cy="0.35" r="0.6"><stop offset="0" stop-color="#d88a80"/><stop offset="1" stop-color="#9c3c34"/></radialGradient></defs><text x="478.5" y="607.2" font-size="4.6" text-anchor="end" fill="#333" font-family="Liberation Sans">0</text><text x="986" y="607.2" font-size="4.6" fill="#333" font-family="Liberation Sans">0</text><line x1="484.5" x2="981" y1="578.5" y2="578.5" stroke="#dedede" stroke-width="1"/><text x="478.5" y="580.3" font-size="4.6" text-anchor="end" fill="#333" font-family="Liberation Sans">50</text><text x="986" y="580.3" font-size="4.6" fill="#333" font-family="Liberation Sans">1</text><line x1="484.5" x2="981" y1="551.7" y2="551.7" stroke="#dedede" stroke-width="1"/><text x="478.5" y="553.5" font-size="4.6" text-anchor="end" fill="#333" font-family="Liberation Sans">100</text><text x="986" y="553.5" font-size="4.6" fill="#333" font-family="Liberation Sans">2</text><line x1="484.5" x2="981" y1="524.8" y2="524.8" stroke="#dedede" stroke-width="1"/><text x="478.5" y="526.6" font-size="4.6" text-anchor="end" fill="#333" font-family="Liberation Sans">150</text><text x="986" y="526.6" font-size="4.6" fill="#333" font-family="Liberation Sans">3</text><line x1="484.5" x2="981" y1="498.0" y2="498.0" stroke="#dedede" stroke-width="1"/><text x="478.5" y="499.8" font-size="4.6" text-anchor="end" fill="#333" font-family="Liberation Sans">200</text><text x="986" y="499.8" font-size="4.6" fill="#333" font-family="Liberation Sans">4</text><line x1="484.5" x2="981" y1="471.1" y2="471.1" stroke="#dedede" stroke-width="1"/><text x="478.5" y="472.9" font-size="4.6" text-anchor="end" fill="#333" font-family="Liberation Sans">250</text><text x="986" y="472.9" font-size="4.6" fill="#333" font-family="Liberation Sans">5</text><line x1="484.5" x2="981" y1="605.4" y2="605.4" stroke="#cfcfcf" stroke-width="1"/><line x1="484.5" x2="484.5" y1="605.4" y2="609.4" stroke="#d0d0d0" stroke-width="0.8"/><line x1="501.1" x2="501.1" y1="605.4" y2="609.4" stroke="#d0d0d0" stroke-width="0.8"/><line x1="517.6" x2="517.6" y1="605.4" y2="609.4" stroke="#d0d0d0" stroke-width="0.8"/><line x1="534.1" x2="534.1" y1="605.4" y2="609.4" stroke="#d0d0d0" stroke-width="0.8"/><line x1="550.7" x2="550.7" y1="605.4" y2="609.4" stroke="#d0d0d0" stroke-width="0.8"/><line x1="567.2" x2="567.2" y1="605.4" y2="609.4" stroke="#d0d0d0" stroke-width="0.8"/><line x1="583.8" x2="583.8" y1="605.4" y2="609.4" stroke="#d0d0d0" stroke-width="0.8"/><line x1="600.4" x2="600.4" y1="605.4" y2="609.4" stroke="#d0d0d0" stroke-width="0.8"/><line x1="616.9" x2="616.9" y1="605.4" y2="609.4" stroke="#d0d0d0" stroke-width="0.8"/><line x1="633.5" x2="633.5" y1="605.4" y2="609.4" stroke="#d0d0d0" stroke-width="0.8"/><line x1="650.0" x2="650.0" y1="605.4" y2="609.4" stroke="#d0d0d0" stroke-width="0.8"/><line x1="666.5" x2="666.5" y1="605.4" y2="609.4" stroke="#d0d0d0" stroke-width="0.8"/><line x1="683.1" x2="683.1" y1="605.4" y2="609.4" stroke="#d0d0d0" stroke-width="0.8"/><line x1="699.6" x2="699.6" y1="605.4" y2="609.4" stroke="#d0d0d0" stroke-width="0.8"/><line x1="716.2" x2="716.2" y1="605.4" y2="609.4" stroke="#d0d0d0" stroke-width="0.8"/><line x1="732.8" x2="732.8" y1="605.4" y2="609.4" stroke="#d0d0d0" stroke-width="0.8"/><line x1="749.3" x2="749.3" y1="605.4" y2="609.4" stroke="#d0d0d0" stroke-width="0.8"/><line x1="765.9" x2="765.9" y1="605.4" y2="609.4" stroke="#d0d0d0" stroke-width="0.8"/><line x1="782.4" x2="782.4" y1="605.4" y2="609.4" stroke="#d0d0d0" stroke-width="0.8"/><line x1="799.0" x2="799.0" y1="605.4" y2="609.4" stroke="#d0d0d0" stroke-width="0.8"/><line x1="815.5" x2="815.5" y1="605.4" y2="609.4" stroke="#d0d0d0" stroke-width="0.8"/><line x1="832.0" x2="832.0" y1="605.4" y2="609.4" stroke="#d0d0d0" stroke-width="0.8"/><line x1="848.6" x2="848.6" y1="605.4" y2="609.4" stroke="#d0d0d0" stroke-width="0.8"/><line x1="865.2" x2="865.2" y1="605.4" y2="609.4" stroke="#d0d0d0" stroke-width="0.8"/><line x1="881.7" x2="881.7" y1="605.4" y2="609.4" stroke="#d0d0d0" stroke-width="0.8"/><line x1="898.2" x2="898.2" y1="605.4" y2="609.4" stroke="#d0d0d0" stroke-width="0.8"/><line x1="914.8" x2="914.8" y1="605.4" y2="609.4" stroke="#d0d0d0" stroke-width="0.8"/><line x1="931.4" x2="931.4" y1="605.4" y2="609.4" stroke="#d0d0d0" stroke-width="0.8"/><line x1="947.9" x2="947.9" y1="605.4" y2="609.4" stroke="#d0d0d0" stroke-width="0.8"/><line x1="964.5" x2="964.5" y1="605.4" y2="609.4" stroke="#d0d0d0" stroke-width="0.8"/><line x1="981.0" x2="981.0" y1="605.4" y2="609.4" stroke="#d0d0d0" stroke-width="0.8"/><rect x="522.1" y="571.0" width="7.6" height="34.4" fill="url(#bg)"/><rect x="522.1" y="571.0" width="7.6" height="34.4" fill="url(#bgv)"/><rect x="522.1" y="571.0" width="7.6" height="0.9" fill="#3e5880"/><rect x="538.6" y="538.3" width="7.6" height="67.1" fill="url(#bg)"/><rect x="538.6" y="538.3" width="7.6" height="67.1" fill="url(#bgv)"/><rect x="538.6" y="538.3" width="7.6" height="0.9" fill="#3e5880"/><rect x="555.2" y="523.8" width="7.6" height="81.6" fill="url(#bg)"/><rect x="555.2" y="523.8" width="7.6" height="81.6" fill="url(#bgv)"/><rect x="555.2" y="523.8" width="7.6" height="0.9" fill="#3e5880"/><rect x="571.7" y="519.5" width="7.6" height="85.9" fill="url(#bg)"/><rect x="571.7" y="519.5" width="7.6" height="85.9" fill="url(#bgv)"/><rect x="571.7" y="519.5" width="7.6" height="0.9" fill="#3e5880"/><rect x="588.3" y="540.4" width="7.6" height="65.0" fill="url(#bg)"/><rect x="588.3" y="540.4" width="7.6" height="65.0" fill="url(#bgv)"/><rect x="588.3" y="540.4" width="7.6" height="0.9" fill="#3e5880"/><rect x="604.8" y="545.8" width="7.6" height="59.6" fill="url(#bg)"/><rect x="604.8" y="545.8" width="7.6" height="59.6" fill="url(#bgv)"/><rect x="604.8" y="545.8" width="7.6" height="0.9" fill="#3e5880"/><rect x="621.4" y="538.3" width="7.6" height="67.1" fill="url(#bg)"/><rect x="621.4" y="538.3" width="7.6" height="67.1" fill="url(#bgv)"/><rect x="621.4" y="538.3" width="7.6" height="0.9" fill="#3e5880"/><rect x="637.9" y="523.8" width="7.6" height="81.6" fill="url(#bg)"/><rect x="637.9" y="523.8" width="7.6" height="81.6" fill="url(#bgv)"/><rect x="637.9" y="523.8" width="7.6" height="0.9" fill="#3e5880"/><rect x="654.5" y="519.5" width="7.6" height="85.9" fill="url(#bg)"/><rect x="654.5" y="519.5" width="7.6" height="85.9" fill="url(#bgv)"/><rect x="654.5" y="519.5" width="7.6" height="0.9" fill="#3e5880"/><rect x="671.0" y="540.4" width="7.6" height="65.0" fill="url(#bg)"/><rect x="671.0" y="540.4" width="7.6" height="65.0" fill="url(#bgv)"/><rect x="671.0" y="540.4" width="7.6" height="0.9" fill="#3e5880"/><rect x="687.6" y="545.8" width="7.6" height="59.6" fill="url(#bg)"/><rect x="687.6" y="545.8" width="7.6" height="59.6" fill="url(#bgv)"/><rect x="687.6" y="545.8" width="7.6" height="0.9" fill="#3e5880"/><rect x="704.1" y="538.3" width="7.6" height="67.1" fill="url(#bg)"/><rect x="704.1" y="538.3" width="7.6" height="67.1" fill="url(#bgv)"/><rect x="704.1" y="538.3" width="7.6" height="0.9" fill="#3e5880"/><rect x="720.7" y="523.8" width="7.6" height="81.6" fill="url(#bg)"/><rect x="720.7" y="523.8" width="7.6" height="81.6" fill="url(#bgv)"/><rect x="720.7" y="523.8" width="7.6" height="0.9" fill="#3e5880"/><rect x="737.2" y="519.5" width="7.6" height="85.9" fill="url(#bg)"/><rect x="737.2" y="519.5" width="7.6" height="85.9" fill="url(#bgv)"/><rect x="737.2" y="519.5" width="7.6" height="0.9" fill="#3e5880"/><rect x="753.8" y="540.4" width="7.6" height="65.0" fill="url(#bg)"/><rect x="753.8" y="540.4" width="7.6" height="65.0" fill="url(#bgv)"/><rect x="753.8" y="540.4" width="7.6" height="0.9" fill="#3e5880"/><rect x="770.3" y="576.9" width="7.6" height="28.5" fill="url(#bg)"/><rect x="770.3" y="576.9" width="7.6" height="28.5" fill="url(#bgv)"/><rect x="770.3" y="576.9" width="7.6" height="0.9" fill="#3e5880"/><circle cx="492.8" cy="605.4" r="2.1" fill="url(#dg)"/><circle cx="509.3" cy="605.4" r="2.1" fill="url(#dg)"/><circle cx="525.9" cy="605.4" r="2.1" fill="url(#dg)"/><circle cx="542.4" cy="605.4" r="2.1" fill="url(#dg)"/><circle cx="559.0" cy="605.4" r="2.1" fill="url(#dg)"/><circle cx="575.5" cy="605.4" r="2.1" fill="url(#dg)"/><circle cx="592.1" cy="605.4" r="2.1" fill="url(#dg)"/><circle cx="608.6" cy="605.4" r="2.1" fill="url(#dg)"/><circle cx="625.2" cy="605.4" r="2.1" fill="url(#dg)"/><circle cx="641.7" cy="605.4" r="2.1" fill="url(#dg)"/><circle cx="658.3" cy="605.4" r="2.1" fill="url(#dg)"/><circle cx="674.8" cy="605.4" r="2.1" fill="url(#dg)"/><circle cx="691.4" cy="605.4" r="2.1" fill="url(#dg)"/><circle cx="707.9" cy="605.4" r="2.1" fill="url(#dg)"/><circle cx="724.5" cy="605.4" r="2.1" fill="url(#dg)"/><circle cx="741.0" cy="605.4" r="2.1" fill="url(#dg)"/><circle cx="757.6" cy="605.4" r="2.1" fill="url(#dg)"/><circle cx="774.1" cy="605.4" r="2.1" fill="url(#dg)"/><circle cx="790.7" cy="605.4" r="2.1" fill="url(#dg)"/><circle cx="807.2" cy="605.4" r="2.1" fill="url(#dg)"/><circle cx="823.8" cy="605.4" r="2.1" fill="url(#dg)"/><circle cx="840.3" cy="605.4" r="2.1" fill="url(#dg)"/><circle cx="856.9" cy="605.4" r="2.1" fill="url(#dg)"/><circle cx="873.4" cy="605.4" r="2.1" fill="url(#dg)"/><circle cx="890.0" cy="605.4" r="2.1" fill="url(#dg)"/><circle cx="906.5" cy="605.4" r="2.1" fill="url(#dg)"/><circle cx="923.1" cy="605.4" r="2.1" fill="url(#dg)"/><circle cx="939.6" cy="605.4" r="2.1" fill="url(#dg)"/><circle cx="956.2" cy="605.4" r="2.1" fill="url(#dg)"/><circle cx="972.7" cy="605.4" r="2.1" fill="url(#dg)"/><text transform="translate(467.5,538) rotate(-90)" font-size="5.5" text-anchor="middle" fill="#222" font-weight="bold">閲覧数</text><text transform="translate(993.5,538) rotate(90)" font-size="5.3" text-anchor="middle" fill="#333">応募数</text><rect x="954.5" y="449.5" width="41.5" height="19" fill="#fff" stroke="#e6e6e6" stroke-width="0.8"/><rect x="956.5" y="452" width="6.5" height="5" fill="#6a84aa" stroke="#4d6690" stroke-width="0.5"/><text x="965" y="456.8" font-size="4.6" fill="#222" font-weight="bold">閲覧数(平均)</text><circle cx="959.8" cy="463" r="1.7" fill="#a8443b"/><text x="965" y="465" font-size="4.6" fill="#222" font-weight="bold">応募数 (平均)</text></svg><div class="abs" style="left:455.2px;top:612px;width:549.3px;height:12px;background:linear-gradient(#46a0ea,#2f78c0)"></div><div class="t" style="left:455.2px;top:615px;width:26.80000000000001px;text-align:center;font-size:5.5px;color:#fff;font-weight:bold">合計</div><div class="t" style="left:482.00px;top:613px;width:17.42px;text-align:center;font-size:4.8px;line-height:5px;color:#eef6ff;font-weight:bold;transform:scaleX(0.92)">01/01<br>~01/02</div><div class="t" style="left:499.42px;top:613px;width:17.42px;text-align:center;font-size:4.8px;line-height:5px;color:#eef6ff;font-weight:bold;transform:scaleX(0.92)">01/03<br>~01/04</div><div class="t" style="left:516.83px;top:613px;width:17.42px;text-align:center;font-size:4.8px;line-height:5px;color:#eef6ff;font-weight:bold;transform:scaleX(0.92)">01/05<br>~01/06</div><div class="t" style="left:534.25px;top:613px;width:17.42px;text-align:center;font-size:4.8px;line-height:5px;color:#eef6ff;font-weight:bold;transform:scaleX(0.92)">01/07<br>~01/08</div><div class="t" style="left:551.67px;top:613px;width:17.42px;text-align:center;font-size:4.8px;line-height:5px;color:#eef6ff;font-weight:bold;transform:scaleX(0.92)">01/09<br>~01/10</div><div class="t" style="left:569.08px;top:613px;width:17.42px;text-align:center;font-size:4.8px;line-height:5px;color:#eef6ff;font-weight:bold;transform:scaleX(0.92)">01/11<br>~01/12</div><div class="t" style="left:586.50px;top:613px;width:17.42px;text-align:center;font-size:4.8px;line-height:5px;color:#eef6ff;font-weight:bold;transform:scaleX(0.92)">01/13<br>~01/14</div><div class="t" style="left:603.92px;top:613px;width:17.42px;text-align:center;font-size:4.8px;line-height:5px;color:#eef6ff;font-weight:bold;transform:scaleX(0.92)">01/15<br>~01/16</div><div class="t" style="left:621.33px;top:613px;width:17.42px;text-align:center;font-size:4.8px;line-height:5px;color:#eef6ff;font-weight:bold;transform:scaleX(0.92)">01/17<br>~01/18</div><div class="t" style="left:638.75px;top:613px;width:17.42px;text-align:center;font-size:4.8px;line-height:5px;color:#eef6ff;font-weight:bold;transform:scaleX(0.92)">01/19<br>~01/20</div><div class="t" style="left:656.17px;top:613px;width:17.42px;text-align:center;font-size:4.8px;line-height:5px;color:#eef6ff;font-weight:bold;transform:scaleX(0.92)">01/21<br>~01/22</div><div class="t" style="left:673.58px;top:613px;width:17.42px;text-align:center;font-size:4.8px;line-height:5px;color:#eef6ff;font-weight:bold;transform:scaleX(0.92)">01/23<br>~01/24</div><div class="t" style="left:691.00px;top:613px;width:17.42px;text-align:center;font-size:4.8px;line-height:5px;color:#eef6ff;font-weight:bold;transform:scaleX(0.92)">01/25<br>~01/26</div><div class="t" style="left:708.42px;top:613px;width:17.42px;text-align:center;font-size:4.8px;line-height:5px;color:#eef6ff;font-weight:bold;transform:scaleX(0.92)">01/27<br>~01/28</div><div class="t" style="left:725.83px;top:613px;width:17.42px;text-align:center;font-size:4.8px;line-height:5px;color:#eef6ff;font-weight:bold;transform:scaleX(0.92)">01/29<br>~01/30</div><div class="t" style="left:743.25px;top:613px;width:17.42px;text-align:center;font-size:4.8px;line-height:5px;color:#eef6ff;font-weight:bold;transform:scaleX(0.92)">01/31<br>~02/01</div><div class="t" style="left:760.67px;top:613px;width:17.42px;text-align:center;font-size:4.8px;line-height:5px;color:#eef6ff;font-weight:bold;transform:scaleX(0.92)">02/02<br>~02/03</div><div class="t" style="left:778.08px;top:613px;width:17.42px;text-align:center;font-size:4.8px;line-height:5px;color:#eef6ff;font-weight:bold;transform:scaleX(0.92)">02/04<br>~02/05</div><div class="t" style="left:795.50px;top:613px;width:17.42px;text-align:center;font-size:4.8px;line-height:5px;color:#eef6ff;font-weight:bold;transform:scaleX(0.92)">02/06<br>~02/07</div><div class="t" style="left:812.92px;top:613px;width:17.42px;text-align:center;font-size:4.8px;line-height:5px;color:#eef6ff;font-weight:bold;transform:scaleX(0.92)">02/08<br>~02/09</div><div class="t" style="left:830.33px;top:613px;width:17.42px;text-align:center;font-size:4.8px;line-height:5px;color:#eef6ff;font-weight:bold;transform:scaleX(0.92)">02/10<br>~02/11</div><div class="t" style="left:847.75px;top:613px;width:17.42px;text-align:center;font-size:4.8px;line-height:5px;color:#eef6ff;font-weight:bold;transform:scaleX(0.92)">02/12<br>~02/13</div><div class="t" style="left:865.17px;top:613px;width:17.42px;text-align:center;font-size:4.8px;line-height:5px;color:#eef6ff;font-weight:bold;transform:scaleX(0.92)">02/14<br>~02/15</div><div class="t" style="left:882.58px;top:613px;width:17.42px;text-align:center;font-size:4.8px;line-height:5px;color:#eef6ff;font-weight:bold;transform:scaleX(0.92)">02/16<br>~02/17</div><div class="t" style="left:900.00px;top:613px;width:17.42px;text-align:center;font-size:4.8px;line-height:5px;color:#eef6ff;font-weight:bold;transform:scaleX(0.92)">02/18<br>~02/19</div><div class="t" style="left:917.42px;top:613px;width:17.42px;text-align:center;font-size:4.8px;line-height:5px;color:#eef6ff;font-weight:bold;transform:scaleX(0.92)">02/20<br>~02/21</div><div class="t" style="left:934.83px;top:613px;width:17.42px;text-align:center;font-size:4.8px;line-height:5px;color:#eef6ff;font-weight:bold;transform:scaleX(0.92)">02/22<br>~02/23</div><div class="t" style="left:952.25px;top:613px;width:17.42px;text-align:center;font-size:4.8px;line-height:5px;color:#eef6ff;font-weight:bold;transform:scaleX(0.92)">02/24<br>~02/25</div><div class="t" style="left:969.67px;top:613px;width:17.42px;text-align:center;font-size:4.8px;line-height:5px;color:#eef6ff;font-weight:bold;transform:scaleX(0.92)">02/26<br>~02/27</div><div class="t" style="left:987.08px;top:613px;width:17.42px;text-align:center;font-size:4.8px;line-height:5px;color:#eef6ff;font-weight:bold;transform:scaleX(0.92)">02/28<br>~03/01</div><div class="abs" style="left:455.2px;top:624px;width:549.3px;height:20px;background:#fff;border:1px solid #8cc4ee;border-top:none"></div><div class="abs" style="left:455.2px;top:633.5px;width:549.3px;height:1px;background:#8cc4ee"></div><div class="t" style="left:457.2px;top:626.5px;font-size:5.5px;color:#444;transform:scaleX(0.78);transform-origin:0 0">閲覧数(平均)</div><div class="t" style="left:457.2px;top:636.5px;font-size:5.5px;color:#444;transform:scaleX(0.72);transform-origin:0 0">応募数 (平均)</div><div class="abs" style="left:481.50px;top:612px;width:1px;height:32px;background:#4f9ae0"></div><div class="abs" style="left:498.92px;top:612px;width:1px;height:32px;background:#4f9ae0"></div><div class="abs" style="left:516.33px;top:612px;width:1px;height:32px;background:#b5dcf5"></div><div class="abs" style="left:533.75px;top:612px;width:1px;height:32px;background:#4f9ae0"></div><div class="abs" style="left:551.17px;top:612px;width:1px;height:32px;background:#b5dcf5"></div><div class="abs" style="left:568.58px;top:612px;width:1px;height:32px;background:#4f9ae0"></div><div class="abs" style="left:586.00px;top:612px;width:1px;height:32px;background:#b5dcf5"></div><div class="abs" style="left:603.42px;top:612px;width:1px;height:32px;background:#4f9ae0"></div><div class="abs" style="left:620.83px;top:612px;width:1px;height:32px;background:#b5dcf5"></div><div class="abs" style="left:638.25px;top:612px;width:1px;height:32px;background:#4f9ae0"></div><div class="abs" style="left:655.67px;top:612px;width:1px;height:32px;background:#b5dcf5"></div><div class="abs" style="left:673.08px;top:612px;width:1px;height:32px;background:#4f9ae0"></div><div class="abs" style="left:690.50px;top:612px;width:1px;height:32px;background:#b5dcf5"></div><div class="abs" style="left:707.92px;top:612px;width:1px;height:32px;background:#4f9ae0"></div><div class="abs" style="left:725.33px;top:612px;width:1px;height:32px;background:#b5dcf5"></div><div class="abs" style="left:742.75px;top:612px;width:1px;height:32px;background:#4f9ae0"></div><div class="abs" style="left:760.17px;top:612px;width:1px;height:32px;background:#b5dcf5"></div><div class="abs" style="left:777.58px;top:612px;width:1px;height:32px;background:#4f9ae0"></div><div class="abs" style="left:795.00px;top:612px;width:1px;height:32px;background:#b5dcf5"></div><div class="abs" style="left:812.42px;top:612px;width:1px;height:32px;background:#4f9ae0"></div><div class="abs" style="left:829.83px;top:612px;width:1px;height:32px;background:#b5dcf5"></div><div class="abs" style="left:847.25px;top:612px;width:1px;height:32px;background:#4f9ae0"></div><div class="abs" style="left:864.67px;top:612px;width:1px;height:32px;background:#b5dcf5"></div><div class="abs" style="left:882.08px;top:612px;width:1px;height:32px;background:#4f9ae0"></div><div class="abs" style="left:899.50px;top:612px;width:1px;height:32px;background:#b5dcf5"></div><div class="abs" style="left:916.92px;top:612px;width:1px;height:32px;background:#4f9ae0"></div><div class="abs" style="left:934.33px;top:612px;width:1px;height:32px;background:#b5dcf5"></div><div class="abs" style="left:951.75px;top:612px;width:1px;height:32px;background:#4f9ae0"></div><div class="abs" style="left:969.17px;top:612px;width:1px;height:32px;background:#b5dcf5"></div><div class="abs" style="left:986.58px;top:612px;width:1px;height:32px;background:#4f9ae0"></div><div class="abs" style="left:1004.00px;top:612px;width:1px;height:32px;background:#b5dcf5"></div><div class="t" style="left:482.00px;top:627px;width:15.42px;text-align:right;font-size:5.2px;color:#555">0</div><div class="t" style="left:482.00px;top:637px;width:15.42px;text-align:right;font-size:5.2px;color:#555">0</div><div class="t" style="left:499.42px;top:627px;width:15.42px;text-align:right;font-size:5.2px;color:#555">0</div><div class="t" style="left:499.42px;top:637px;width:15.42px;text-align:right;font-size:5.2px;color:#555">0</div><div class="t" style="left:516.83px;top:627px;width:15.42px;text-align:right;font-size:5.2px;color:#555">64</div><div class="t" style="left:516.83px;top:637px;width:15.42px;text-align:right;font-size:5.2px;color:#555">0</div><div class="t" style="left:534.25px;top:627px;width:15.42px;text-align:right;font-size:5.2px;color:#555">125</div><div class="t" style="left:534.25px;top:637px;width:15.42px;text-align:right;font-size:5.2px;color:#555">0</div><div class="t" style="left:551.67px;top:627px;width:15.42px;text-align:right;font-size:5.2px;color:#555">152</div><div class="t" style="left:551.67px;top:637px;width:15.42px;text-align:right;font-size:5.2px;color:#555">0</div><div class="t" style="left:569.08px;top:627px;width:15.42px;text-align:right;font-size:5.2px;color:#555">160</div><div class="t" style="left:569.08px;top:637px;width:15.42px;text-align:right;font-size:5.2px;color:#555">0</div><div class="t" style="left:586.50px;top:627px;width:15.42px;text-align:right;font-size:5.2px;color:#555">121</div><div class="t" style="left:586.50px;top:637px;width:15.42px;text-align:right;font-size:5.2px;color:#555">0</div><div class="t" style="left:603.92px;top:627px;width:15.42px;text-align:right;font-size:5.2px;color:#555">111</div><div class="t" style="left:603.92px;top:637px;width:15.42px;text-align:right;font-size:5.2px;color:#555">0</div><div class="t" style="left:621.33px;top:627px;width:15.42px;text-align:right;font-size:5.2px;color:#555">125</div><div class="t" style="left:621.33px;top:637px;width:15.42px;text-align:right;font-size:5.2px;color:#555">0</div><div class="t" style="left:638.75px;top:627px;width:15.42px;text-align:right;font-size:5.2px;color:#555">152</div><div class="t" style="left:638.75px;top:637px;width:15.42px;text-align:right;font-size:5.2px;color:#555">0</div><div class="t" style="left:656.17px;top:627px;width:15.42px;text-align:right;font-size:5.2px;color:#555">160</div><div class="t" style="left:656.17px;top:637px;width:15.42px;text-align:right;font-size:5.2px;color:#555">0</div><div class="t" style="left:673.58px;top:627px;width:15.42px;text-align:right;font-size:5.2px;color:#555">121</div><div class="t" style="left:673.58px;top:637px;width:15.42px;text-align:right;font-size:5.2px;color:#555">0</div><div class="t" style="left:691.00px;top:627px;width:15.42px;text-align:right;font-size:5.2px;color:#555">111</div><div class="t" style="left:691.00px;top:637px;width:15.42px;text-align:right;font-size:5.2px;color:#555">0</div><div class="t" style="left:708.42px;top:627px;width:15.42px;text-align:right;font-size:5.2px;color:#555">125</div><div class="t" style="left:708.42px;top:637px;width:15.42px;text-align:right;font-size:5.2px;color:#555">0</div><div class="t" style="left:725.83px;top:627px;width:15.42px;text-align:right;font-size:5.2px;color:#555">152</div><div class="t" style="left:725.83px;top:637px;width:15.42px;text-align:right;font-size:5.2px;color:#555">0</div><div class="t" style="left:743.25px;top:627px;width:15.42px;text-align:right;font-size:5.2px;color:#555">160</div><div class="t" style="left:743.25px;top:637px;width:15.42px;text-align:right;font-size:5.2px;color:#555">0</div><div class="t" style="left:760.67px;top:627px;width:15.42px;text-align:right;font-size:5.2px;color:#555">121</div><div class="t" style="left:760.67px;top:637px;width:15.42px;text-align:right;font-size:5.2px;color:#555">0</div><div class="t" style="left:778.08px;top:627px;width:15.42px;text-align:right;font-size:5.2px;color:#555">53</div><div class="t" style="left:778.08px;top:637px;width:15.42px;text-align:right;font-size:5.2px;color:#555">0</div><div class="t" style="left:795.50px;top:627px;width:15.42px;text-align:right;font-size:5.2px;color:#555">0</div><div class="t" style="left:795.50px;top:637px;width:15.42px;text-align:right;font-size:5.2px;color:#555">0</div><div class="t" style="left:812.92px;top:627px;width:15.42px;text-align:right;font-size:5.2px;color:#555">0</div><div class="t" style="left:812.92px;top:637px;width:15.42px;text-align:right;font-size:5.2px;color:#555">0</div><div class="t" style="left:830.33px;top:627px;width:15.42px;text-align:right;font-size:5.2px;color:#555">0</div><div class="t" style="left:830.33px;top:637px;width:15.42px;text-align:right;font-size:5.2px;color:#555">0</div><div class="t" style="left:847.75px;top:627px;width:15.42px;text-align:right;font-size:5.2px;color:#555">0</div><div class="t" style="left:847.75px;top:637px;width:15.42px;text-align:right;font-size:5.2px;color:#555">0</div><div class="t" style="left:865.17px;top:627px;width:15.42px;text-align:right;font-size:5.2px;color:#555">0</div><div class="t" style="left:865.17px;top:637px;width:15.42px;text-align:right;font-size:5.2px;color:#555">0</div><div class="t" style="left:882.58px;top:627px;width:15.42px;text-align:right;font-size:5.2px;color:#555">0</div><div class="t" style="left:882.58px;top:637px;width:15.42px;text-align:right;font-size:5.2px;color:#555">0</div><div class="t" style="left:900.00px;top:627px;width:15.42px;text-align:right;font-size:5.2px;color:#555">0</div><div class="t" style="left:900.00px;top:637px;width:15.42px;text-align:right;font-size:5.2px;color:#555">0</div><div class="t" style="left:917.42px;top:627px;width:15.42px;text-align:right;font-size:5.2px;color:#555">0</div><div class="t" style="left:917.42px;top:637px;width:15.42px;text-align:right;font-size:5.2px;color:#555">0</div><div class="t" style="left:934.83px;top:627px;width:15.42px;text-align:right;font-size:5.2px;color:#555">0</div><div class="t" style="left:934.83px;top:637px;width:15.42px;text-align:right;font-size:5.2px;color:#555">0</div><div class="t" style="left:952.25px;top:627px;width:15.42px;text-align:right;font-size:5.2px;color:#555">0</div><div class="t" style="left:952.25px;top:637px;width:15.42px;text-align:right;font-size:5.2px;color:#555">0</div><div class="t" style="left:969.67px;top:627px;width:15.42px;text-align:right;font-size:5.2px;color:#555">0</div><div class="t" style="left:969.67px;top:637px;width:15.42px;text-align:right;font-size:5.2px;color:#555">0</div><div class="t" style="left:987.08px;top:627px;width:15.42px;text-align:right;font-size:5.2px;color:#555">0</div><div class="t" style="left:987.08px;top:637px;width:15.42px;text-align:right;font-size:5.2px;color:#555">0</div><div class="abs" style="left:38px;top:499px;width:365px;height:1.2px;background:#cad1da"></div><div class="abs" style="left:38px;top:501px;width:365px;height:2px;background:#efecf7"></div><div class="abs" style="left:38px;top:505px;width:365px;height:146px;background:#fff"></div><div class="hdr" style="left:38px;top:505px;width:365px;height:19.5px;border-top:none;background:linear-gradient(#43a0f0,#4590d4 45%,#3a7ab4 85%,#2f6aa8)"></div><div class="t" style="left:60px;top:539px;font-size:8.6px;color:#333;font-weight:normal;">期間指定</div><div class="abs" style="left:99px;top:537px;width:133px;height:12.5px;background:#fff;border:1px solid #666;border-right:none;border-radius:1px 0 0 1px"></div><div class="t" style="left:102px;top:539px;font-size:9px;color:#000;font-weight:normal;">2021年01月</div><svg class="abs" style="left:222.8px;top:541px" width="8.2" height="5.6" viewBox="-1 -1 8.2 5.6"><path d="M0 0 L3.1 3.6 L6.2 0" fill="none" stroke="#111" stroke-width="1.3"/></svg><svg class="abs" style="left:238px;top:540.5px" width="8" height="4" viewBox="0 0 8 4"><path d="M0.5 3 Q2.5 0 4 1.8 Q5.5 3.5 7.5 1" fill="none" stroke="#555" stroke-width="0.9"/></svg><div class="abs" style="left:252.5px;top:537px;width:133px;height:12.5px;background:#fff;border:1px solid #666;border-radius:1px"></div><div class="t" style="left:255.5px;top:539px;font-size:9px;color:#000;font-weight:normal;">2021年03月</div><svg class="abs" style="left:376.3px;top:541px" width="8.2" height="5.6" viewBox="-1 -1 8.2 5.6"><path d="M0 0 L3.1 3.6 L6.2 0" fill="none" stroke="#111" stroke-width="1.3"/></svg><div class="t" style="left:60px;top:562px;font-size:8.6px;color:#333;font-weight:normal;">集計区分</div><div class="radio on" style="left:100px;top:562px;width:10px;height:10px"></div><div class="t" style="left:116px;top:562px;font-size:8.6px;color:#333;font-weight:normal;">全社</div><div class="radio" style="left:157px;top:562px;width:10px;height:10px;border-color:#666"></div><div class="t" style="left:170px;top:562px;font-size:8.6px;color:#333;font-weight:normal;">ブロック</div><div class="radio" style="left:228.5px;top:562px;width:10px;height:10px;border-color:#666"></div><div class="t" style="left:245px;top:562px;font-size:8.6px;color:#333;font-weight:normal;">拠点</div><div class="abs" style="left:101px;top:587px;width:8.5px;height:9px;background:#fff;border:1px solid #aaa;border-radius:1.5px"></div><div class="t" style="left:116px;top:586px;font-size:8.6px;color:#333;font-weight:normal;">ブランド毎に小計</div><div class="abs" style="left:38px;top:609px;width:365px;height:1px;background:#eef0f2"></div><div class="btn" style="left:142px;top:617px;width:142.5px;height:22.5px;font-size:9.5px;line-height:22.5px">表示</div><div class="abs" style="left:38px;top:650px;width:365px;height:1.5px;background:#bcc6d2"></div><div class="abs" style="left:40px;top:688px;width:249px;height:156px;background:#fff;border:1px solid #d8d8d8;border-right:none"></div><svg class="abs" style="left:40px;top:688px" width="249" height="156" viewBox="40 688 249 156"><defs><radialGradient id="g2" cx="0.5" cy="0.3" r="0.8"><stop offset="0" stop-color="#9bb2d2"/><stop offset="0.55" stop-color="#7089ad"/><stop offset="1" stop-color="#4f6890"/></radialGradient></defs><line x1="54" x2="289" y1="696" y2="696" stroke="#e4e4e4" stroke-width="0.8"/><line x1="54" x2="289" y1="813.5" y2="813.5" stroke="#dadada" stroke-width="0.8"/><line x1="54" x2="54" y1="813.5" y2="817" stroke="#dadada" stroke-width="0.8"/><line x1="175" x2="175" y1="813.5" y2="817" stroke="#dadada" stroke-width="0.8"/><rect x="86" y="696" width="57.5" height="117" fill="url(#g2)"/><text x="48" y="697.5" font-size="4" fill="#444">1</text><text x="48" y="815" font-size="4" fill="#444">0</text><text x="114.5" y="694" font-size="4" fill="#444" text-anchor="middle">1</text><text x="114.5" y="756" font-size="3.5" fill="#fff" text-anchor="middle">自社: 1</text><text x="114.8" y="819.5" font-size="4.2" fill="#555" text-anchor="middle">応募数</text><text x="235.7" y="819.5" font-size="4.2" fill="#555" text-anchor="middle">面接数</text><text x="235.7" y="809" font-size="3.6" fill="#555" text-anchor="middle">0</text><text x="235.7" y="813" font-size="3.3" fill="#555" text-anchor="middle">自社: 0</text></svg><div class="abs" style="left:44px;top:826.5px;width:245px;height:6px;background:linear-gradient(#4aa3ec,#2d78c2)"></div><div class="t" style="left:138.5px;top:827.5px;font-size:3.6px;color:#fff;font-weight:normal;width:94px;text-align:center">応募数</div><div class="t" style="left:232.5px;top:827.5px;font-size:3.6px;color:#fff;font-weight:normal;width:56px;text-align:right">面接数</div><div class="abs" style="left:44px;top:832.5px;width:245px;height:8.5px;background:#fff;border:1px solid #bfe0f5;border-top:none;border-right:none"></div><div class="abs" style="left:138.5px;top:832.5px;width:1px;height:8px;background:#bfe0f5"></div><div class="abs" style="left:232.5px;top:832.5px;width:1px;height:8px;background:#bfe0f5"></div><div class="t" style="left:46px;top:834.5px;font-size:4px;color:#555;font-weight:normal;">自社</div><div class="t" style="left:228px;top:834.5px;font-size:4px;color:#555;font-weight:normal;">1</div><div class="abs" style="left:316px;top:684px;width:697px;height:160px;background:#fff;border-top:2px solid #d5d9de;border-bottom:1px solid #d4d4d4"></div><div class="abs" style="left:316.5px;top:692px;width:692.9px;height:11.5px;background:linear-gradient(#46a3ee,#2e7dc8)"></div><div class="t" style="left:316.5px;top:695px;width:135.39999999999998px;text-align:center;font-size:5.5px;color:#fff;font-weight:bold">媒体</div><div class="t" style="left:451.9px;top:695px;width:93.20000000000005px;text-align:center;font-size:5.5px;color:#fff;font-weight:bold">年月</div><div class="t" style="left:545.1px;top:695px;width:83.29999999999995px;text-align:center;font-size:5.5px;color:#fff;font-weight:bold">掲載費用</div><div class="t" style="left:628.4px;top:695px;width:64.60000000000002px;text-align:center;font-size:5.5px;color:#fff;font-weight:bold">応募数</div><div class="t" style="left:693px;top:695px;width:101.5px;text-align:center;font-size:5.5px;color:#fff;font-weight:bold">面接調整中</div><div class="t" style="left:794.5px;top:695px;width:137.39999999999998px;text-align:center;font-size:5.5px;color:#fff;font-weight:bold">面接日程確定済</div><div class="t" style="left:931.9px;top:695px;width:77.5px;text-align:center;font-size:5.5px;color:#fff;font-weight:bold">面接辞退</div><div class="abs" style="left:316.5px;top:703.5px;width:692.9px;height:15.125px;background:#fff;border-bottom:1px solid #cde3f3"></div><div class="t" style="left:318.5px;top:708.0px;font-size:6.6px;color:#666">自社</div><div class="t" style="left:451.9px;top:708.0px;width:91.20000000000005px;text-align:right;font-size:6.6px;color:#666">2021/02</div><div class="t" style="left:628.4px;top:708.0px;width:61.60000000000002px;text-align:right;font-size:6.6px;color:#777">1</div><div class="t" style="left:693px;top:708.0px;width:98.5px;text-align:right;font-size:6.6px;color:#777">0</div><div class="t" style="left:794.5px;top:708.0px;width:134.39999999999998px;text-align:right;font-size:6.6px;color:#777">0</div><div class="abs" style="left:316.5px;top:718.625px;width:692.9px;height:15.125px;background:#fff;border-bottom:1px solid #cde3f3"></div><div class="t" style="left:318.5px;top:723.1px;font-size:6.6px;color:#666">自社</div><div class="t" style="left:451.9px;top:723.1px;width:91.20000000000005px;text-align:right;font-size:6.6px;color:#666">2021/03</div><div class="t" style="left:628.4px;top:723.1px;width:61.60000000000002px;text-align:right;font-size:6.6px;color:#777">17</div><div class="t" style="left:693px;top:723.1px;width:98.5px;text-align:right;font-size:6.6px;color:#777">0</div><div class="t" style="left:794.5px;top:723.1px;width:134.39999999999998px;text-align:right;font-size:6.6px;color:#777">0</div><div class="abs" style="left:316.5px;top:733.75px;width:692.9px;height:15.125px;background:#fff;border-bottom:1px solid #cde3f3"></div><div class="t" style="left:318.5px;top:738.2px;font-size:6.6px;color:#666">TOWNWORK</div><div class="t" style="left:451.9px;top:738.2px;width:91.20000000000005px;text-align:right;font-size:6.6px;color:#666">2021/03</div><div class="t" style="left:628.4px;top:738.2px;width:61.60000000000002px;text-align:right;font-size:6.6px;color:#777">0</div><div class="t" style="left:693px;top:738.2px;width:98.5px;text-align:right;font-size:6.6px;color:#777">17</div><div class="t" style="left:794.5px;top:738.2px;width:134.39999999999998px;text-align:right;font-size:6.6px;color:#777">0</div><div class="abs" style="left:316.5px;top:748.875px;width:692.9px;height:15.125px;background:#fff;border-bottom:1px solid #cde3f3"></div><div class="t" style="left:318.5px;top:753.4px;font-size:6.6px;color:#666">バイトル</div><div class="t" style="left:451.9px;top:753.4px;width:91.20000000000005px;text-align:right;font-size:6.6px;color:#666">2021/03</div><div class="t" style="left:628.4px;top:753.4px;width:61.60000000000002px;text-align:right;font-size:6.6px;color:#777">0</div><div class="t" style="left:693px;top:753.4px;width:98.5px;text-align:right;font-size:6.6px;color:#777">0</div><div class="t" style="left:794.5px;top:753.4px;width:134.39999999999998px;text-align:right;font-size:6.6px;color:#777">17</div><div class="abs" style="left:316.5px;top:764.0px;width:692.9px;height:15.125px;background:#fff;border-bottom:1px solid #cde3f3"></div><div class="t" style="left:318.5px;top:768.5px;font-size:6.6px;color:#666">アイデム</div><div class="t" style="left:451.9px;top:768.5px;width:91.20000000000005px;text-align:right;font-size:6.6px;color:#666">2021/03</div><div class="t" style="left:628.4px;top:768.5px;width:61.60000000000002px;text-align:right;font-size:6.6px;color:#777">0</div><div class="t" style="left:693px;top:768.5px;width:98.5px;text-align:right;font-size:6.6px;color:#777">0</div><div class="t" style="left:794.5px;top:768.5px;width:134.39999999999998px;text-align:right;font-size:6.6px;color:#777">0</div><div class="abs" style="left:316.5px;top:779.125px;width:692.9px;height:15.125px;background:#fff;border-bottom:1px solid #cde3f3"></div><div class="t" style="left:318.5px;top:783.6px;font-size:6.6px;color:#666">DODA</div><div class="t" style="left:451.9px;top:783.6px;width:91.20000000000005px;text-align:right;font-size:6.6px;color:#666">2021/03</div><div class="t" style="left:628.4px;top:783.6px;width:61.60000000000002px;text-align:right;font-size:6.6px;color:#777">0</div><div class="t" style="left:693px;top:783.6px;width:98.5px;text-align:right;font-size:6.6px;color:#777">0</div><div class="t" style="left:794.5px;top:783.6px;width:134.39999999999998px;text-align:right;font-size:6.6px;color:#777">0</div><div class="abs" style="left:316.5px;top:794.25px;width:692.9px;height:15.125px;background:#fff;border-bottom:1px solid #cde3f3"></div><div class="t" style="left:318.5px;top:798.8px;font-size:6.6px;color:#666">マイナビ転職</div><div class="t" style="left:451.9px;top:798.8px;width:91.20000000000005px;text-align:right;font-size:6.6px;color:#666">2021/03</div><div class="t" style="left:628.4px;top:798.8px;width:61.60000000000002px;text-align:right;font-size:6.6px;color:#777">0</div><div class="t" style="left:693px;top:798.8px;width:98.5px;text-align:right;font-size:6.6px;color:#777">0</div><div class="t" style="left:794.5px;top:798.8px;width:134.39999999999998px;text-align:right;font-size:6.6px;color:#777">0</div><div class="abs" style="left:316.5px;top:809.375px;width:692.9px;height:15.125px;background:#fff;border-bottom:1px solid #cde3f3"></div><div class="t" style="left:318.5px;top:813.9px;font-size:6.6px;color:#666">カイゴジョブ</div><div class="t" style="left:451.9px;top:813.9px;width:91.20000000000005px;text-align:right;font-size:6.6px;color:#666">2021/03</div><div class="t" style="left:628.4px;top:813.9px;width:61.60000000000002px;text-align:right;font-size:6.6px;color:#777">0</div><div class="t" style="left:693px;top:813.9px;width:98.5px;text-align:right;font-size:6.6px;color:#777">0</div><div class="t" style="left:794.5px;top:813.9px;width:134.39999999999998px;text-align:right;font-size:6.6px;color:#777">0</div><div class="abs" style="left:316.5px;top:824.5px;width:692.9px;height:14.5px;background:#d9d9d9;border-bottom:1px solid #c8c8c8"></div><div class="t" style="left:318.5px;top:829px;font-size:6.6px;color:#333;font-weight:bold">合計</div><div class="t" style="left:545.1px;top:829px;width:80.29999999999995px;text-align:right;font-size:6.6px;color:#333;font-weight:bold">0</div><div class="t" style="left:628.4px;top:829px;width:61.60000000000002px;text-align:right;font-size:6.6px;color:#333;font-weight:bold">18</div><div class="t" style="left:693px;top:829px;width:98.5px;text-align:right;font-size:6.6px;color:#333;font-weight:bold">17</div><div class="t" style="left:794.5px;top:829px;width:134.39999999999998px;text-align:right;font-size:6.6px;color:#333;font-weight:bold">17</div><div class="abs" style="left:316.0px;top:703.5px;width:1px;height:135.5px;background:#a9cfee"></div><div class="abs" style="left:451.4px;top:703.5px;width:1px;height:135.5px;background:#dbe9f5"></div><div class="abs" style="left:544.6px;top:703.5px;width:1px;height:135.5px;background:#a9cfee"></div><div class="abs" style="left:627.9px;top:703.5px;width:1px;height:135.5px;background:#a9cfee"></div><div class="abs" style="left:692.5px;top:703.5px;width:1px;height:135.5px;background:#dbe9f5"></div><div class="abs" style="left:794.0px;top:703.5px;width:1px;height:135.5px;background:#a9cfee"></div><div class="abs" style="left:931.4px;top:703.5px;width:1px;height:135.5px;background:#dbe9f5"></div><div class="abs" style="left:1008.9px;top:703.5px;width:1px;height:135.5px;background:#a9cfee"></div></body></html>
